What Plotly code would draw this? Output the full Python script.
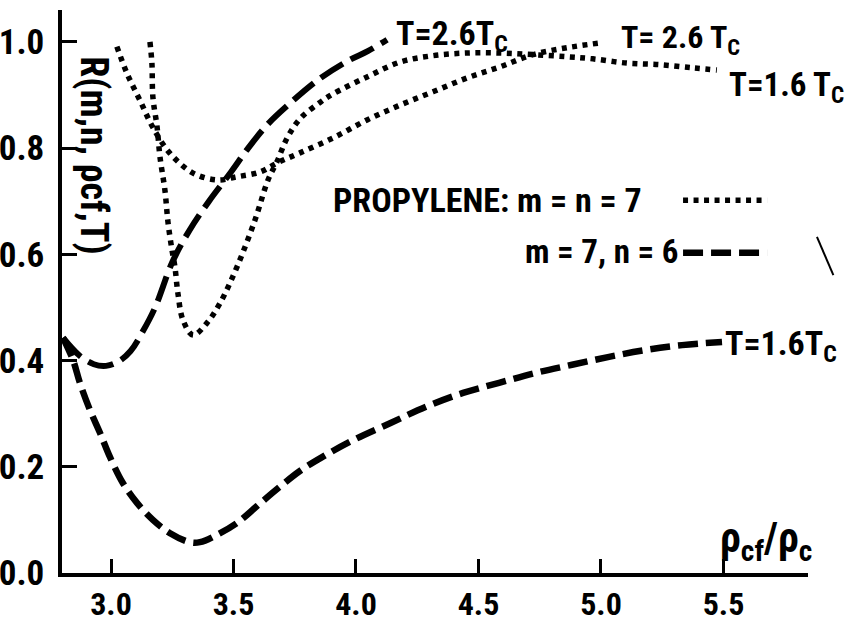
import plotly.graph_objects as go

# ---- data ----
# m = n = 7, T = 2.6 Tc (dotted)
a_x = [3.024, 3.065, 3.118, 3.171, 3.241, 3.335, 3.433, 3.514, 3.608, 3.678, 3.771,
       3.906, 4.045, 4.180, 4.314, 4.453, 4.588, 4.722, 4.861, 4.996]
a_y = [0.991, 0.941, 0.890, 0.839, 0.790, 0.753, 0.740, 0.746, 0.755, 0.772, 0.791,
       0.819, 0.853, 0.881, 0.906, 0.932, 0.953, 0.976, 0.989, 0.998]

# m = n = 7, T = 1.6 Tc (dotted)
b_x = [3.159, 3.167, 3.171, 3.188, 3.200, 3.220, 3.233, 3.249, 3.261, 3.273, 3.294,
       3.335, 3.392, 3.445, 3.514, 3.588, 3.641, 3.678, 3.718, 3.771, 3.853, 3.906,
       4.045, 4.180, 4.314, 4.453, 4.588, 4.722, 4.861, 4.967, 5.106, 5.241, 5.376, 5.473]
b_y = [1.000, 0.960, 0.896, 0.840, 0.783, 0.721, 0.659, 0.608, 0.576, 0.527, 0.476,
       0.448, 0.471, 0.508, 0.576, 0.665, 0.740, 0.775, 0.818, 0.855, 0.886, 0.902,
       0.934, 0.962, 0.974, 0.979, 0.979, 0.976, 0.972, 0.968, 0.960, 0.957, 0.951, 0.947]

# m = 7, n = 6, T = 2.6 Tc (dashed)
c_x = [2.804, 2.870, 2.930, 2.980, 3.030, 3.080, 3.130, 3.180, 3.250, 3.320, 3.400,
       3.490, 3.560, 3.640, 3.720, 3.850, 3.970, 4.050, 4.127]
c_y = [0.443, 0.410, 0.393, 0.390, 0.398, 0.418, 0.455, 0.500, 0.585, 0.645, 0.700,
       0.755, 0.800, 0.845, 0.880, 0.930, 0.965, 0.983, 1.004]

# m = 7, n = 6, T = 1.6 Tc (dashed)
d_x = [2.804, 2.845, 2.873, 2.914, 2.955, 2.996, 3.049, 3.106, 3.171, 3.241, 3.322,
       3.363, 3.433, 3.514, 3.596, 3.678, 3.771, 3.865, 3.988, 4.139, 4.286, 4.437,
       4.584, 4.735, 4.882, 5.033, 5.184, 5.331, 5.494]
d_y = [0.443, 0.401, 0.358, 0.307, 0.264, 0.218, 0.169, 0.132, 0.100, 0.075, 0.058,
       0.058, 0.072, 0.094, 0.126, 0.158, 0.192, 0.219, 0.250, 0.282, 0.313, 0.339,
       0.358, 0.377, 0.392, 0.407, 0.420, 0.429, 0.435]

x_ticks = [3.0, 3.5, 4.0, 4.5, 5.0, 5.5]
x_tick_text = ["3.0", "3.5", "4.0", "4.5", "5.0", "5.5"]
y_ticks = [0.0, 0.2, 0.4, 0.6, 0.8, 1.0]
y_tick_text = ["0.0", "0.2", "0.4", "0.6", "0.8", "1.0"]

FONT = "Roboto Condensed, Roboto, Liberation Sans, sans-serif"
DOT = dict(color="black", width=5.5, dash="5px,5.5px")
DASH_C = dict(color="black", width=6, dash="26px,9px")
DASH_D = dict(color="black", width=6.5, dash="20px,8px")

fig = go.Figure()
fig.add_trace(go.Scatter(x=a_x, y=a_y, mode="lines", line=DOT, line_shape="spline", showlegend=False))
fig.add_trace(go.Scatter(x=b_x, y=b_y, mode="lines", line=DOT, line_shape="spline", showlegend=False))
fig.add_trace(go.Scatter(x=c_x, y=c_y, mode="lines", line=DASH_C, line_shape="spline", showlegend=False))
fig.add_trace(go.Scatter(x=d_x, y=d_y, mode="lines", line=DASH_D, line_shape="spline", showlegend=False))

def f(size):
    return dict(family=FONT, size=size, color="black", weight="bold")

def ann(text, x, y, font, xanchor="left", yanchor="middle", xref="x", yref="y", **kw):
    fig.add_annotation(text=text, x=x, y=y, xref=xref, yref=yref, showarrow=False,
                       xanchor=xanchor, yanchor=yanchor, font=font, **kw)

ann("T=2.6T<sub>C</sub>", 4.155, 1.012, f(34))
ann("T= 2.6 T<sub>C</sub>", 5.075, 1.006, f(32))
ann("T=1.6 T<sub>C</sub>", 5.515, 0.915, f(33))
ann("T=1.6T<sub>C</sub>", 5.50, 0.428, f(34))
ann("PROPYLENE: m = n = 7", 3.90, 0.702, f(34))
ann("m = 7, n = 6", 4.68, 0.606, f(33))
ann("ρ<sub>cf</sub>/ρ<sub>c</sub>", 1.008, 0.058, f(42), xanchor="right", xref="paper", yref="paper")
ann("R(m,n, ρcf,T)", 2.93, 0.785, f(38), xanchor="center", textangle=90)

# legend samples
fig.add_shape(type="line", x0=5.335, x1=5.678, y0=0.702, y1=0.702, xref="x", yref="y", line=DOT)
fig.add_shape(type="line", x0=5.335, x1=5.678, y0=0.603, y1=0.603, xref="x", yref="y", line=DASH_D)
# stray stroke at right
fig.add_shape(type="line", x0=1.012, x1=1.034, y0=0.597, y1=0.529, xref="paper", yref="paper",
              line=dict(color="black", width=2))

fig.update_xaxes(range=[2.8, 5.845], tickvals=x_ticks, ticktext=x_tick_text,
                 showline=True, linecolor="black", linewidth=3.5, ticks="inside",
                 ticklen=14, tickwidth=3, tickcolor="black", showgrid=False, zeroline=False,
                 tickfont=f(32), ticklabelstandoff=0, automargin=False)
fig.update_yaxes(range=[0, 1.06], tickvals=y_ticks, ticktext=y_tick_text,
                 showline=True, linecolor="black", linewidth=3.5, ticks="inside",
                 ticklen=15, tickwidth=3, tickcolor="black", showgrid=False, zeroline=False,
                 tickfont=f(35), ticklabelstandoff=7, automargin=False)
fig.update_layout(width=845, height=623, margin=dict(l=62, r=37, t=10, b=50),
                  plot_bgcolor="white", paper_bgcolor="white", font=dict(family=FONT))

fig.write_html("out.html")
